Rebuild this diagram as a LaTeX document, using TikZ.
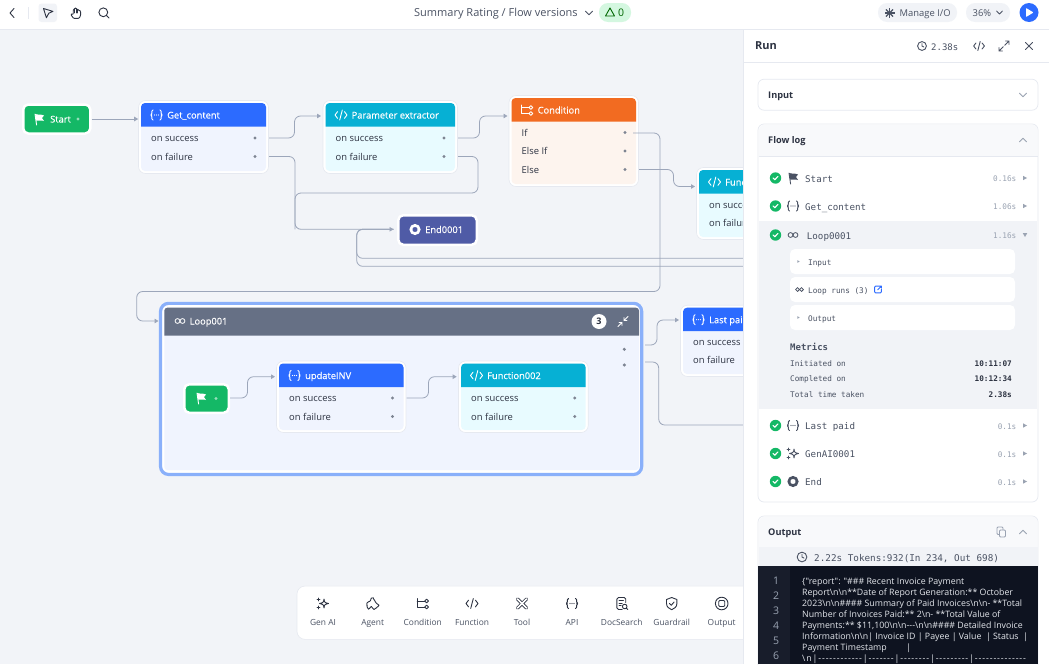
\documentclass[tikz,border=0pt]{standalone}
\usepackage{fontspec}
\setmainfont{Open Sans}
\setmonofont{DejaVu Sans Mono}
\newfontfamily\codefont{Open Sans}
\newfontfamily\medfont[FakeBold=.3]{Open Sans}
\usepackage{xcolor}
\usepackage{tikz}
\usetikzlibrary{arrows.meta}

\definecolor{canvasbg}{HTML}{F2F4F8}
\definecolor{edgegray}{HTML}{E6E9F0}
\definecolor{wiregray}{HTML}{9CA6BA}
\definecolor{dotgray}{HTML}{7D8492}
\definecolor{inkdark}{HTML}{2D3342}
\definecolor{inkmid}{HTML}{4A5263}
\definecolor{inklight}{HTML}{9AA3B2}
\definecolor{flowgreen}{HTML}{14B866}
\definecolor{flowblue}{HTML}{2C6BFF}
\definecolor{flowcyan}{HTML}{06B0D4}
\definecolor{floworange}{HTML}{F26B21}
\definecolor{flowindigo}{HTML}{4F5BA6}
\definecolor{flowslate}{HTML}{667085}
\definecolor{loopblue}{HTML}{8AB0FA}
\definecolor{bodyblue}{HTML}{F0F4FE}
\definecolor{bodycyan}{HTML}{E8FBFF}
\definecolor{bodyorange}{HTML}{FDF4EE}
\definecolor{pillgreen}{HTML}{D4F7E0}
\definecolor{softgray}{HTML}{F1F3F7}
\definecolor{headgray}{HTML}{F8F9FB}
\definecolor{codebg}{HTML}{0E1320}
\definecolor{gutterbg}{HTML}{181D2B}
\definecolor{codetext}{HTML}{E4E7EC}

\newcommand{\ssf}[1]{\fontsize{#1}{#1}\selectfont}
\newcommand{\bs}{\textbackslash}

\tikzset{
  tx/.style={anchor=base west, yshift=-3.5pt, inner sep=0pt},
  txr/.style={anchor=base east, yshift=-3.5pt, inner sep=0pt},
  txc/.style={anchor=base, yshift=-3.5pt, inner sep=0pt},
  wire/.style={draw=wiregray, line width=.8pt, rounded corners=6pt},
  wirein/.style={wire, -{Triangle[length=4pt,width=4.5pt]}},
  cardbox/.style={draw=edgegray, line width=.6pt, fill=white, rounded corners=7pt, inner sep=0pt},
  pillbox/.style={draw=white, line width=2.5pt, rounded corners=5pt, inner sep=0pt},
  panelbox/.style={draw=edgegray, line width=.7pt, fill=white, rounded corners=6pt, inner sep=0pt},
  il/.style={line width=.9pt, line cap=round, line join=round},
  flagicon/.pic={\draw[il] (-4,-5) -- (-2.4,6);
    \fill (-3.9,-5) .. controls (-1,-3) and (1,-5.5) .. (5,-3.5) -- (3,-1) -- (5,2) .. controls (1,.5) and (0,2.8) .. (-2.9,1.5) -- cycle;},
  apiicon/.pic={\draw[il, rounded corners=1.2pt] (-3.5,-5) -- (-4.6,-5) -- (-4.6,-.8) -- (-5.8,0) -- (-4.6,.8) -- (-4.6,5) -- (-3.5,5);
    \draw[il, rounded corners=1.2pt] (3.5,-5) -- (4.6,-5) -- (4.6,-.8) -- (5.8,0) -- (4.6,.8) -- (4.6,5) -- (3.5,5);
    \foreach \dx in {-2,0,2} \fill (\dx,0) circle (.55);},
  codeicon/.pic={\draw[il] (-3.4,-3.4) -- (-6,0) -- (-3.4,3.4) (3.4,-3.4) -- (6,0) -- (3.4,3.4) (1.3,-5) -- (-1.3,5);},
  condicon/.pic={\draw[il] (-5.5,-5) -- (-5.5,3.5) -- (2,3.5) (-5.5,-2.5) -- (2,-2.5);
    \draw[il] (3.9,-2.5) circle (1.9) (3.9,3.5) circle (1.9);},
  loopicon/.pic={\draw[line width=.8pt] (-2.5,0) circle (2.4) (2.5,0) circle (2.4);},
  stopicon/.pic={\fill[even odd rule] (0,0) circle (5.6) [rounded corners=1pt] (-2.3,-2.3) rectangle (2.3,2.3);},
  sparkicon/.pic={\draw[il] (1,-4.5) .. controls (1.5,-1) .. (5.5,0) .. controls (1.5,1) .. (1,4.5) .. controls (.5,1) .. (-3.5,0) .. controls (.5,-1) .. cycle;
    \draw[il] (-4.5,-5.5) -- (-4.5,-2.5) (-6,-4) -- (-3,-4) (-4.5,2.5) -- (-4.5,5.5) (-6,4) -- (-3,4);},
  agenticon/.pic={\draw[il, rounded corners=1.3pt] (-5,-2) -- (-1.8,-2) -- (-2.4,-4.5) -- (-.5,-6.3) -- (1.6,-5) -- (1.2,-2.6) -- (3.6,-1.8) -- (3.3,.6) -- (6,.4) -- (6.5,3) -- (3.4,3.6) -- (3,5.8) -- (-.3,5.8) -- (0,3.2) -- (-2.6,2.8) -- (-2.8,5.8) -- (-5.5,5.4) -- (-5,3) -- (-6.4,1.4) -- cycle;},
  toolicon/.pic={\draw[line width=3.2pt, line cap=round] (-4.5,-4.5) -- (4.5,4.5) (4.5,-4.5) -- (-4.5,4.5);
    \draw[white, line width=1.5pt, line cap=round] (-4.5,-4.5) -- (4.5,4.5) (4.5,-4.5) -- (-4.5,4.5);},
  docicon/.pic={\draw[il, rounded corners=1.5pt] (4,-1) -- (4,-6) -- (-4.8,-6) -- (-4.8,6) -- (.5,6);
    \draw[il] (-2.6,-3) -- (1.8,-3) (-2.6,-.3) -- (.5,-.3) (-2.6,2.3) -- (-.6,2.3);
    \draw[il] (3,3) circle (2.3) (4.7,4.7) -- (6,6);},
  shieldicon/.pic={\draw[il] (0,-6) -- (5.2,-4) -- (5.2,0) .. controls (5.2,3.6) and (2.4,5.2) .. (0,6.2) .. controls (-2.4,5.2) and (-5.2,3.6) .. (-5.2,0) -- (-5.2,-4) -- cycle;
    \draw[il] (-2.2,0) -- (-.5,1.8) -- (2.4,-1.5);},
  outicon/.pic={\draw[il] (0,0) circle (6.3); \draw[il, rounded corners=1pt] (-3,-3) rectangle (3,3);},
  chevdown/.pic={\draw[il] (-3.6,-1.8) -- (0,1.8) -- (3.6,-1.8);},
  chevup/.pic={\draw[il] (-3.6,1.8) -- (0,-1.8) -- (3.6,1.8);},
  cursoricon/.pic={\draw[il] (-4.5,-4.5) -- (5,-1.6) -- (.8,.2) -- (-1.6,4.8) -- cycle;},
  handicon/.pic={\draw[il, rounded corners=.8pt] (-2.4,5.4) -- (-5.2,1.6) -- (-4.2,.6) -- (-2.8,1.6) -- (-2.8,-3.6) -- (-1.4,-3.6) -- (-1.4,-5) -- (.2,-5) -- (.2,-3.8) -- (1.8,-3.8) -- (1.8,-2.8) -- (3.4,-2.8) -- (4.6,-1.8) -- (4.6,2.5) -- (3,5.4) -- cycle;
    \draw[il] (-1.4,-3.6) -- (-1.4,0) (.2,-3.8) -- (.2,0) (1.8,-2.8) -- (1.8,0);},
  searchicon/.pic={\draw[il] (-.7,-.7) circle (4.4) (2.6,2.6) -- (5,5);},
  clockicon/.pic={\draw[il] (0,0) circle (4.4); \draw[il] (0,-2.5) -- (0,0) -- (1.8,1);},
  expandicon/.pic={\draw[il] (.8,-.8) -- (5,-5) (1.6,-5) -- (5,-5) -- (5,-1.6) (-.8,.8) -- (-5,5) (-1.6,5) -- (-5,5) -- (-5,1.6);},
  compressicon/.pic={\draw[il] (1,-1) -- (5,-5) (1,-4) -- (1,-1) -- (4,-1) (-1,1) -- (-5,5) (-1,4) -- (-1,1) -- (-4,1);},
  closeicon/.pic={\draw[il] (-3.5,-3.5) -- (3.5,3.5) (3.5,-3.5) -- (-3.5,3.5);},
  copyicon/.pic={\draw[il, rounded corners=1pt] (-1.5,-2) rectangle (4.5,5);
    \draw[il, rounded corners=1pt] (-1.5,2.5) -- (-4,2.5) -- (-4,-5) -- (2,-5) -- (2,-2);},
  burstion/.pic={\foreach \ang in {0,45,...,315} \draw[line width=1.1pt] (0,0) -- (\ang:5);},
  checkicon/.pic={\fill[flowgreen] (0,0) circle (5.7); \draw[white, line width=1.1pt, line cap=round, line join=round] (-2.4,0) -- (-.7,1.7) -- (2.5,-1.6);},
  trright/.pic={\fill (-2,-2.2) -- (2,0) -- (-2,2.2) -- cycle;},
  trdown/.pic={\fill (-2.2,-1.8) -- (2.2,-1.8) -- (0,2) -- cycle;},
  linkicon/.pic={\draw[il, rounded corners=1pt] (.5,-3.6) -- (-3.6,-3.6) -- (-3.6,3.6) -- (3.6,3.6) -- (3.6,-.2);
    \draw[il] (-.4,.4) -- (3.6,-3.6) (1,-3.6) -- (3.6,-3.6) -- (3.6,-1.4);}
}

\newcommand{\flowcard}[9]{%
  \def\cardid{#1}\def\cardxa{#2}\def\cardxb{#3}%
  \node[cardbox, minimum width={(#3-#2+5)*1pt}, minimum height={(#5-#4+5)*1pt}] (#1) at ({(#2+#3)/2},{(#4+#5)/2}) {};
  \fill[#7, rounded corners=4pt] (#2,#4) rectangle (#3,#5);
  \fill[#6] (#2,#4+23.5) [rounded corners=4pt] -- (#2,#4) -- (#3,#4) [sharp corners] -- (#3,#4+23.5) -- cycle;
  \pic[white] at (#2+15.5,#4+12) {#8};
  \node[tx, white, font=\medfont\ssf{9.3}] (#1-title) at (#2+26,#4+12) {#9};
}
\newcommand{\cardrow}[3]{%
  \node[tx, inkdark, font=\ssf{9.4}] (\cardid-#1-text) at (\cardxa+10,#3) {#2};
  \fill[dotgray] (\cardxb-11,#3) circle (1.7);
  \coordinate (\cardid-#1) at (\cardxb+3,#3);
}

\begin{document}
\begin{tikzpicture}[x=1pt,y=-1pt]
  \useasboundingbox (0,0) rectangle (1049,664);
  \fill[canvasbg] (0,0) rectangle (1049,664);

  % canvas cards
  \node[pillbox, fill=flowgreen, minimum width=67pt, minimum height=29pt] (start) at (56.75,119) {};
  \pic[white] at (39,119) {flagicon};
  \node[tx, white, font=\medfont\ssf{9.3}] (starttext) at (50,119) {Start};
  \fill[white, opacity=.55] (78,119) circle (1.6);

  \flowcard{getcontent}{141}{266}{103}{171}{flowblue}{bodyblue}{apiicon}{Get\_content}
  \cardrow{s}{on success}{138}
  \cardrow{f}{on failure}{156.5}

  \flowcard{param}{325.5}{455}{103}{171}{flowcyan}{bodycyan}{codeicon}{Parameter extractor}
  \cardrow{s}{on success}{138}
  \cardrow{f}{on failure}{156.5}

  \flowcard{cond}{511.5}{636}{98}{184}{floworange}{bodyorange}{condicon}{Condition}
  \cardrow{i}{If}{132.5}
  \cardrow{ei}{Else If}{151}
  \cardrow{e}{Else}{169.5}

  \flowcard{func}{699}{800}{170}{237}{flowcyan}{bodycyan}{codeicon}{Function}
  \cardrow{s}{on success}{204.5}
  \cardrow{f}{on failure}{222.5}

  \node[pillbox, fill=flowindigo, minimum width=78.5pt, minimum height=29.5pt] (end) at (437.5,230) {};
  \pic[white] at (415,229.5) {stopicon};
  \node[tx, white, font=\medfont\ssf{9.3}] (endtext) at (425,229.5) {End0001};

  % loop group
  \node[draw=loopblue, line width=3.2pt, fill=white, rounded corners=8pt, inner sep=0pt,
        minimum width=481.1pt, minimum height=171.1pt] (loop) at (401.1,388.9) {};
  \fill[bodyblue, rounded corners=3pt] (164.3,307.7) rectangle (639,470);
  \fill[flowslate] (164.3,335.7) [rounded corners=3pt] -- (164.3,307.7) -- (639,307.7) [sharp corners] -- (639,335.7) -- cycle;
  \pic[white] at (180,321) {loopicon};
  \node[tx, white, font=\medfont\ssf{9.3}] (looptext) at (189.5,321) {Loop001};
  \node[circle, fill=white, minimum size=15pt, inner sep=0pt, font=\ssf{9}\bfseries, text=inkdark] (loopcount) at (599,321.5) {3};
  \pic[white] at (623,321.5) {compressicon};
  \fill[dotgray] (624.3,349.3) circle (1.7) (624.3,365) circle (1.7);

  \node[pillbox, fill=flowgreen, minimum width=44.5pt, minimum height=28.5pt] (loopstart) at (206.5,398.5) {};
  \pic[white] at (201,398) {flagicon};
  \fill[white, opacity=.55] (216,398.5) circle (1.6);

  \flowcard{update}{279}{403.5}{363.5}{430}{flowblue}{bodyblue}{apiicon}{updateINV}
  \cardrow{s}{on success}{398}
  \cardrow{f}{on failure}{416.5}

  \flowcard{functwo}{461}{585.7}{363.5}{430}{flowcyan}{bodycyan}{codeicon}{Function002}
  \cardrow{s}{on success}{398}
  \cardrow{f}{on failure}{416.5}

  \flowcard{lastpaid}{683}{800}{307.7}{374}{flowblue}{bodyblue}{apiicon}{Last paid}
  \cardrow{s}{on success}{342}
  \cardrow{f}{on failure}{360}

  % connectors
  \coordinate (param-in) at (321,116);
  \coordinate (cond-in) at (507.5,116);
  \coordinate (func-in) at (695,186.5);
  \coordinate (cond-out) at (633,133);
  \coordinate (loop-in) at (158.5,321);
  \coordinate (loop-s) at (645,345);
  \coordinate (loop-f) at (645,362);
  \coordinate (lastpaid-in) at (679,320);
  \coordinate (update-in) at (275,376.7);
  \coordinate (functwo-in) at (456.7,376.7);
  \coordinate (loopstart-out) at (230,398);
  \coordinate (end-in) at (393.5,229.3);
  \coordinate (offa) at (760,258.3);
  \coordinate (offb) at (760,266.3);
  \coordinate (offc) at (760,425);

  \draw[wirein] (start.east) -- (start.east -| getcontent.west);
  \draw[wirein] (getcontent-s) -| (294.5,116) -- (param-in);
  \draw[wirein] (getcontent-f) -| (295,229.3) -- (end-in);
  \draw[wirein] (param-s) -| (479.5,116) -- (cond-in);
  \draw[wire] (param-f) -| (478,193) -| (295,229.3);
  \draw[wirein] (cond-e) -| (673.5,186.5) -- (func-in);
  \draw[wirein] (cond-out) -| (660,291.5) -| (136.7,321) -- (loop-in);
  \draw[wire] (offa) -| (356.7,229.3) -- (end-in);
  \draw[wire] (offb) -| (356.7,229.3) -- (end-in);
  \draw[wirein] (loop-s) -| (657,320) -- (lastpaid-in);
  \draw[wire] (loop-f) -| (658.7,425) -- (offc);
  \draw[wirein] (loopstart-out) -| (247.5,376.7) -- (update-in);
  \draw[wirein] (update-s) -| (428.5,376.7) -- (functwo-in);

  % palette
  \node[cardbox, draw=edgegray, minimum width=480pt, minimum height=53.3pt, rounded corners=8pt] (palette) at (537,612.7) {};
  \foreach \lx/\lname/\licon in {323/Gen AI/sparkicon,372.7/Agent/agenticon,422.7/Condition/condicon,472/Function/codeicon,522/Tool/toolicon,572/API/apiicon,621.7/DocSearch/docicon,671.7/Guardrail/shieldicon,721.7/Output/outicon}{
    \pic[inkdark] at (\lx,603.5) {\licon};
    \node[txc, inkmid, font=\ssf{8.4}] (tool\lx) at (\lx,622) {\lname};
  }

  % top bar
  \fill[white] (0,0) rectangle (1049,29);
  \draw[edgegray, line width=.8pt] (0,29.5) -- (1049,29.5);
  \draw[il, inkdark] (14,8.5) -- (10,13) -- (14,17.5);
  \draw[edgegray, line width=.8pt] (28.5,7) -- (28.5,19);
  \fill[softgray, rounded corners=3pt] (38.5,3.5) rectangle (57,22);
  \pic[inkdark] at (48,13) {cursoricon};
  \pic[inkdark] at (76,13) {handicon};
  \pic[inkdark] at (104,13) {searchicon};
  \node[tx, inkmid, font=\ssf{11}] (flowtitle) at (414,13) {Summary Rating / Flow versions};
  \pic[inkmid] at (589,13) {chevdown};
  \node[fill=pillgreen, rounded corners=9pt, minimum width=32pt, minimum height=19pt, inner sep=0pt] (warnpill) at (615,12.5) {};
  \draw[il, green!40!black] (610,8) -- (614.5,16) -- (605.5,16) -- cycle;
  \node[tx, green!40!black, font=\ssf{10.5}] (warncount) at (618,13) {0};
  \node[fill=softgray, rounded corners=9pt, minimum width=79pt, minimum height=19pt, inner sep=0pt] (managepill) at (917.5,12.5) {};
  \pic[inkmid] at (889.5,13) {burstion};
  \node[tx, inkmid, font=\ssf{9.4}] (managetext) at (899.5,13) {Manage I/O};
  \node[fill=softgray, rounded corners=9pt, minimum width=44pt, minimum height=19pt, inner sep=0pt] (zoompill) at (988,12.5) {};
  \node[tx, inkmid, font=\ssf{9.4}] (zoomtext) at (972.5,13) {36\%};
  \pic[inkmid, scale=.8] at (999.5,12.5) {chevdown};
  \node[circle, fill=flowblue, minimum size=19pt, inner sep=0pt] (playbtn) at (1029,12.5) {};
  \fill[white, rounded corners=.6pt] (1026,8) -- (1033.5,12.5) -- (1026,17) -- cycle;

  % run panel
  \fill[white] (744,30) rectangle (1049,664);
  \draw[edgegray, line width=.8pt] (743.6,30) -- (743.6,664);
  \draw[edgegray, line width=.7pt] (744,62.3) -- (1049,62.3);
  \node[tx, text=inkdark, font=\ssf{11}\bfseries] (runtitle) at (755,46) {Run};
  \pic[inkmid] at (922,46) {clockicon};
  \node[tx, inkmid, font=\ssf{9}\ttfamily] (runtime) at (931,46.5) {2.38s};
  \pic[inkmid, scale=.9] at (979,46) {codeicon};
  \pic[inkmid] at (1004,46) {expandicon};
  \pic[inkmid] at (1029,46) {closeicon};

  \node[panelbox, minimum width=280pt, minimum height=31pt] (inputcard) at (898,94.7) {};
  \node[tx, inkdark, font=\ssf{9.2}\bfseries] (inputtext) at (768,95) {Input};
  \pic[inklight] at (1023,95) {chevdown};

  \node[panelbox, minimum width=280pt, minimum height=378pt] (flowlog) at (898,313) {};
  \fill[headgray, rounded corners=6pt] (759,156) [sharp corners] -- (759,156) [rounded corners=6pt] -- (759,124.5) -- (1037.6,124.5) [sharp corners] -- (1037.6,156) -- cycle;
  \draw[edgegray, line width=.6pt] (758.5,156.3) -- (1037.6,156.3);
  \node[tx, inkdark, font=\ssf{9.2}\bfseries] (flowlogtext) at (768,140) {Flow log};
  \pic[inklight] at (1023,140) {chevup};
  \fill[softgray] (759.4,221) rectangle (1037.4,409.3);

  \foreach \ry/\rx/\rname/\rtime/\ricon/\rtip in {178/805/Start/0.16s/flagicon/trright,206/805/Get\_content/1.06s/apiicon/trright,235/806.7/Loop0001/1.16s/loopicon/trdown,425.5/805/Last paid/0.1s/apiicon/trright,453.5/805/GenAI0001/0.1s/sparkicon/trright,481.5/805/End/0.1s/stopicon/trright}{
    \pic at (775.5,\ry) {checkicon};
    \pic[inkmid] at (793,\ry) {\ricon};
    \node[tx, inkmid, font=\ssf{9.2}\ttfamily] (row\ry) at (\rx,\ry+.5) {\rname};
    \node[txr, inklight, font=\ssf{7.7}\ttfamily] (rowtime\ry) at (1016.5,\ry) {\rtime};
    \pic[inklight] at (1025,\ry) {\rtip};
  }

  \foreach \cy/\cname in {261.5/Input,289.5/Loop runs (3),317.5/Output}{
    \node[fill=white, rounded corners=5pt, minimum width=225pt, minimum height=25pt, inner sep=0pt] (sub\cy) at (902.5,\cy) {};
    \node[tx, inkmid, font=\ssf{7.7}\ttfamily] (subtext\cy) at (808,\cy+.5) {\cname};
  }
  \pic[inklight, scale=.6] at (798.5,261.5) {trright};
  \pic[inkmid, scale=.8] at (799.5,289.5) {loopicon};
  \pic[flowblue, scale=.95] at (878,289.5) {linkicon};
  \pic[inklight, scale=.6] at (798.5,317.5) {trright};

  \node[tx, inkmid, font=\ssf{9}\ttfamily\bfseries] (metrics) at (790,346.5) {Metrics};
  \foreach \my/\mname/\mval in {362.5/Initiated on/10:11:07,378/Completed on/10:12:34,393.5/Total time taken/2.38s}{
    \node[tx, inkmid, font=\ssf{7.7}\ttfamily] (metric\my) at (790,\my) {\mname};
    \node[txr, inkdark, font=\ssf{7.7}\ttfamily\bfseries] (value\my) at (1012,\my) {\mval};
  }

  \node[panelbox, minimum width=280pt, minimum height=170pt] (outputcard) at (898,601) {};
  \fill[headgray, rounded corners=6pt] (759,516.5) rectangle (1037.6,560);
  \node[tx, inkdark, font=\ssf{9.2}\bfseries] (outputtext) at (768,531.5) {Output};
  \pic[inklight] at (1001,532) {copyicon};
  \pic[inklight] at (1023,532) {chevup};
  \fill[softgray] (758.5,547) rectangle (1037.6,566);
  \pic[inkmid, scale=1.1] at (802,557) {clockicon};
  \node[tx, inkmid, font=\ssf{9.3}\ttfamily] (tokens) at (814,557.5) {2.22s Tokens:932(In 234, Out 698)};
  \fill[codebg] (758,566) rectangle (1038,664);
  \fill[gutterbg] (758,566) rectangle (790,664);
  \foreach \ln/\ly in {1/581,2/596,3/611,4/626,5/641,6/656}
    \node[txc, text=inklight, font=\ssf{10.5}] (line\ln) at (776,\ly) {\ln};
  \node[anchor=north west, inner sep=0pt, align=left, text=codetext, font=\codefont\fontsize{8.8}{10.9}\selectfont] (outputbody) at (802,578.2) {%
    \{"report": "\#\#\# Recent Invoice Payment\\
    Report\bs n\bs n**Date of Report Generation:** October\\
    2023\bs n\bs n\#\#\#\# Summary of Paid Invoices\bs n\bs n- **Total\\
    Number of Invoices Paid:** 2\bs n- **Total Value of\\
    Payments:** \$11,100\bs n\bs n-{}-{}-\bs n\bs n\#\#\#\# Detailed Invoice\\
    Information\bs n\bs n| Invoice ID | Payee | Value \ | Status \ |\\
    Payment Timestamp \hspace{17pt}|\\
    \addfontfeatures{LetterSpace=10}\bs n|------------|-------|--------|---------|--------------};
\end{tikzpicture}
\end{document}
